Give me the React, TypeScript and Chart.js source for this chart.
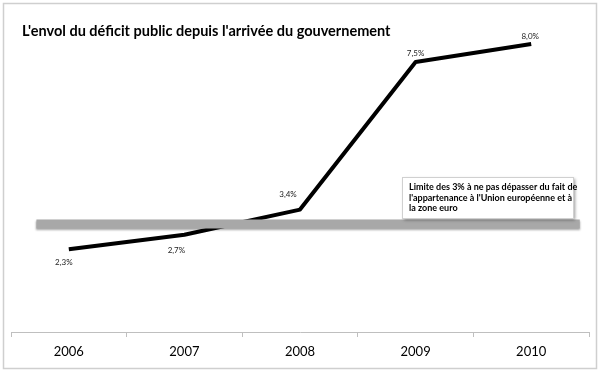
import { useEffect, useRef } from 'react';
import { Chart, registerables } from 'chart.js';

Chart.register(...registerables);

const years = ['2006', '2007', '2008', '2009', '2010'];
const deficit = [2.3, 2.7, 3.4, 7.5, 8.0];
const deficitLabels = ['2,3%', '2,7%', '3,4%', '7,5%', '8,0%'];
const limitValue = 3;
const limitStart = 0.22; // in category-index units (0..5)
const limitEnd = 4.92;
const yMin = 0;
const yMax = 9;
const chartTitle = "L'envol du déficit public depuis l'arrivée du gouvernement";
const noteLines = [
  'Limite des 3% à ne pas dépasser du fait de',
  "l'appartenance à l'Union européenne et à",
  'la zone euro',
];

const labelOffsets = [
  [-5, 13],
  [-8, 16],
  [-12, -15],
  [0, -9],
  [-1, -8],
];

const framePlugin = {
  id: 'frame',
  beforeDraw(chart: any) {
    const { ctx, width, height } = chart;
    ctx.save();
    ctx.fillStyle = '#ffffff';
    ctx.fillRect(0, 0, width, height);
    ctx.strokeStyle = '#cfcfcf';
    ctx.lineWidth = 1.5;
    ctx.strokeRect(3.5, 3.5, width - 7, height - 8);
    ctx.restore();
  },
};

const bandShadowPlugin = {
  id: 'bandShadow',
  beforeDatasetDraw(chart: any, args: any) {
    if (args.index === 0) {
      const ctx = chart.ctx;
      ctx.save();
      ctx.shadowColor = 'rgba(0,0,0,0.35)';
      ctx.shadowBlur = 2;
      ctx.shadowOffsetY = 1.5;
    }
  },
  afterDatasetDraw(chart: any, args: any) {
    if (args.index === 0) chart.ctx.restore();
  },
};

const overlayPlugin = {
  id: 'overlay',
  afterDatasetsDraw(chart: any) {
    const { ctx } = chart;
    ctx.save();
    // title
    ctx.fillStyle = '#000';
    ctx.font = 'bold 14.5px Lato';
    ctx.textAlign = 'left';
    ctx.textBaseline = 'alphabetic';
    ctx.fillText(chartTitle, 22, 36);

    // data labels
    const meta = chart.getDatasetMeta(1);
    ctx.font = '8px Lato';
    ctx.fillStyle = '#222';
    ctx.textAlign = 'center';
    ctx.textBaseline = 'middle';
    meta.data.forEach((pt: any, i: number) => {
      const [dx, dy] = labelOffsets[i];
      ctx.fillText(deficitLabels[i], pt.x + dx, pt.y + dy);
    });

    // note box
    const bx = 402, by = 177, bw = 171, bh = 41;
    ctx.save();
    ctx.shadowColor = 'rgba(0,0,0,0.4)';
    ctx.shadowBlur = 3;
    ctx.shadowOffsetX = 2;
    ctx.shadowOffsetY = 2;
    ctx.fillStyle = '#fff';
    ctx.fillRect(bx, by, bw, bh);
    ctx.restore();
    ctx.strokeStyle = '#d0d0d0';
    ctx.lineWidth = 1;
    ctx.strokeRect(bx + 0.5, by + 0.5, bw, bh);
    ctx.fillStyle = '#000';
    ctx.font = 'bold 9px Lato';
    ctx.textAlign = 'left';
    ctx.textBaseline = 'alphabetic';
    noteLines.forEach((line, i) => {
      ctx.fillText(line, 409, 190 + i * 10.5);
    });
    ctx.restore();
  },
};

export default function App() {
  const ref = useRef<HTMLCanvasElement | null>(null);
  useEffect(() => {
    document.body.style.margin = '0';
    if (!ref.current) return;
    const chart = new Chart(ref.current, {
      type: 'line',
      data: {
        labels: years,
        datasets: [
          {
            label: 'Limite 3%',
            xAxisID: 'xb',
            data: [
              { x: limitStart, y: limitValue },
              { x: limitEnd, y: limitValue },
            ],
            borderColor: '#a8a8a8',
            borderWidth: 9,
            borderCapStyle: 'butt',
            pointRadius: 0,
            fill: false,
          } as any,
          {
            label: 'Déficit public',
            xAxisID: 'x',
            data: deficit,
            borderColor: '#000',
            borderWidth: 4,
            borderJoinStyle: 'round',
            pointRadius: 0,
            tension: 0,
            fill: false,
          } as any,
        ],
      },
      options: {
        responsive: false,
        animation: false,
        layout: { padding: { left: 11, right: 11, top: 8, bottom: 0 } },
        plugins: {
          legend: { display: false },
          tooltip: { enabled: false },
          title: { display: false },
        },
        scales: {
          x: {
            type: 'category',
            offset: true,
            grid: {
              offset: true,
              drawOnChartArea: false,
              drawTicks: true,
              tickLength: 5,
              color: '#bfbfbf',
            },
            border: { display: true, color: '#bfbfbf' },
            ticks: { font: { family: 'Lato', size: 13 }, color: '#000', padding: 7 },
            afterFit: (s: any) => {
              s.height = 41;
            },
          },
          xb: {
            type: 'linear',
            min: 0,
            max: 5,
            display: false,
          },
          y: {
            min: yMin,
            max: yMax,
            display: false,
          },
        },
      },
      plugins: [framePlugin, bandShadowPlugin, overlayPlugin],
    } as any);
    return () => chart.destroy();
  }, []);
  return (
    <div style={{ width: 600, height: 373 }}>
      <canvas ref={ref} width={600} height={373} />
    </div>
  );
}
